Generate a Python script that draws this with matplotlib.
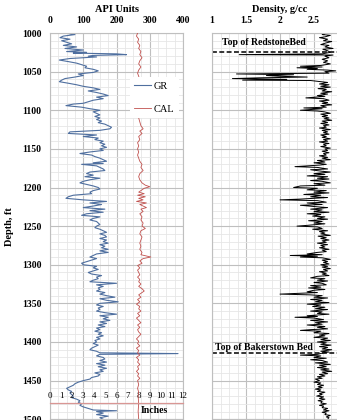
import matplotlib
matplotlib.use('Agg')
import matplotlib.pyplot as plt
from matplotlib.ticker import MultipleLocator, FixedLocator

plt.rcParams['font.family'] = ['Liberation Serif', 'DejaVu Serif']

# gamma ray log, API units
gr_depth = [1000, 1002, 1004, 1006, 1008, 1010, 1012, 1014, 1016, 1018, 1020, 1022, 1024, 1025, 1026,
            1027, 1028, 1029, 1030, 1031, 1033, 1035, 1037, 1039, 1041, 1043, 1045, 1047, 1049, 1051,
            1053, 1055, 1057, 1059, 1061, 1063, 1065, 1067, 1069, 1071, 1073, 1075, 1077, 1079, 1081,
            1083, 1085, 1087, 1089, 1091, 1092, 1094, 1096, 1098, 1100, 1102, 1104, 1106, 1108, 1110,
            1112, 1114, 1116, 1118, 1120, 1122, 1124, 1126, 1128, 1130, 1132, 1134, 1136, 1138, 1140,
            1142, 1144, 1146, 1148, 1150, 1152, 1154, 1156, 1158, 1160, 1162, 1164, 1166, 1168, 1169,
            1170, 1172, 1174, 1176, 1178, 1180, 1182, 1184, 1186, 1188, 1190, 1192, 1194, 1196, 1198,
            1200, 1202, 1204, 1206, 1208, 1210, 1212, 1214, 1216, 1218, 1220, 1222, 1224, 1226, 1228,
            1230, 1232, 1234, 1236, 1238, 1240, 1242, 1244, 1246, 1248, 1250, 1252, 1254, 1256, 1258,
            1260, 1262, 1264, 1266, 1268, 1270, 1272, 1274, 1276, 1278, 1280, 1282, 1284, 1286, 1288,
            1290, 1292, 1294, 1296, 1298, 1300, 1302, 1304, 1306, 1308, 1310, 1312, 1314, 1316, 1318,
            1320, 1322, 1324, 1326, 1328, 1330, 1332, 1334, 1336, 1338, 1340, 1342, 1344, 1346, 1348,
            1350, 1352, 1354, 1356, 1358, 1360, 1362, 1364, 1366, 1368, 1370, 1372, 1374, 1376, 1378,
            1380, 1382, 1384, 1386, 1388, 1390, 1392, 1394, 1396, 1398, 1400, 1402, 1404, 1406, 1408,
            1410, 1412, 1414, 1415, 1416, 1418, 1420, 1422, 1424, 1426, 1428, 1430, 1432, 1434, 1436,
            1438, 1440, 1442, 1444, 1446, 1448, 1450, 1452, 1454, 1456, 1458, 1460, 1462, 1464, 1466,
            1468, 1470, 1472, 1474, 1476, 1478, 1480, 1482, 1484, 1486, 1488, 1489, 1490, 1492, 1494,
            1496, 1498, 1500]
gr_api = [45, 75, 40, 30, 60, 35, 50, 65, 40, 80, 45, 100, 50, 110, 70,
          200, 230, 130, 115, 140, 60, 28, 55, 80, 95, 110, 105, 130, 145, 130,
          85, 100, 75, 45, 35, 28, 55, 80, 100, 130, 150, 115, 140, 160, 175,
          140, 160, 130, 115, 100, 70, 48, 95, 120, 150, 130, 140, 150, 135, 150,
          140, 155, 145, 165, 175, 185, 180, 150, 60, 55, 140, 100, 145, 135, 160,
          150, 165, 155, 170, 150, 160, 120, 90, 125, 135, 150, 160, 170, 130, 160,
          95, 140, 150, 160, 165, 120, 110, 130, 105, 150, 120, 100, 90, 110, 130,
          145, 150, 130, 120, 125, 70, 55, 48, 100, 170, 120, 155, 130, 100, 165,
          120, 160, 110, 95, 150, 130, 120, 140, 145, 150, 140, 135, 150, 160, 170,
          150, 165, 170, 150, 170, 160, 175, 150, 165, 155, 175, 150, 175, 140, 130,
          120, 140, 125, 110, 95, 100, 140, 130, 145, 130, 115, 125, 155, 140, 145,
          130, 120, 200, 140, 160, 145, 150, 140, 165, 150, 170, 195, 150, 170, 205,
          150, 140, 160, 145, 150, 140, 165, 200, 150, 175, 160, 180, 150, 170, 145,
          165, 140, 150, 135, 155, 145, 160, 140, 150, 135, 140, 130, 145, 135, 125,
          120, 140, 150, 385, 150, 140, 160, 165, 150, 170, 140, 165, 145, 170, 150,
          160, 135, 150, 145, 125, 120, 100, 85, 75, 70, 60, 50, 55, 65, 60,
          65, 70, 65, 80, 90, 85, 95, 90, 100, 115, 130, 200, 140, 160, 140,
          175, 150, 160]

# caliper log, inches
cal_depth = [1000, 1004, 1008, 1012, 1016, 1020, 1024, 1028, 1032, 1036, 1040, 1044, 1048, 1052, 1056,
             1060, 1070, 1080, 1090, 1100, 1110, 1120, 1124, 1127, 1130, 1134, 1138, 1142, 1146, 1150,
             1154, 1158, 1162, 1166, 1170, 1174, 1178, 1182, 1186, 1190, 1194, 1197, 1199, 1201, 1203,
             1206, 1208, 1210, 1212, 1214, 1216, 1218, 1220, 1222, 1224, 1226, 1228, 1231, 1234, 1238,
             1242, 1246, 1250, 1253, 1256, 1260, 1264, 1268, 1272, 1276, 1280, 1284, 1287, 1289, 1290,
             1292, 1295, 1298, 1301, 1304, 1307, 1310, 1313, 1316, 1319, 1322, 1325, 1328, 1331, 1334,
             1336, 1339, 1342, 1345, 1348, 1351, 1354, 1357, 1360, 1363, 1366, 1369, 1372, 1375, 1378,
             1381, 1384, 1387, 1390, 1393, 1396, 1399, 1402, 1405, 1408, 1411, 1414, 1417, 1420, 1423,
             1426, 1429, 1432, 1435, 1438, 1441, 1444, 1447, 1450, 1455, 1460, 1465, 1470, 1480, 1490,
             1500]
cal_in = [7.9, 7.8, 8.0, 7.9, 8.1, 8.0, 8.2, 8.1, 8.3, 8.1, 8.0, 8.2, 8.0, 7.9, 8.0,
          8.1, 8.0, 8.1, 8.0, 8.1, 8.0, 8.2, 8.4, 8.1, 8.3, 8.0, 8.1, 7.9, 8.0, 7.9,
          8.0, 7.9, 8.0, 8.1, 8.3, 8.2, 8.4, 8.1, 8.0, 8.1, 8.3, 8.6, 9.0, 8.5, 8.3,
          8.0, 8.5, 7.9, 8.6, 8.0, 8.4, 7.8, 8.7, 8.1, 8.4, 8.7, 8.2, 8.4, 8.1, 8.3,
          8.2, 8.4, 8.3, 8.6, 8.2, 8.1, 8.3, 8.2, 8.1, 8.2, 8.1, 8.3, 8.2, 8.8, 9.1,
          8.4, 8.1, 8.3, 7.9, 8.1, 7.9, 8.0, 8.1, 7.9, 8.1, 8.0, 8.2, 8.0, 8.3, 8.5,
          8.3, 8.0, 8.2, 7.9, 8.1, 7.8, 8.1, 8.0, 8.2, 7.9, 8.1, 7.8, 8.0, 8.2, 7.9,
          8.1, 7.9, 8.0, 8.2, 8.0, 7.8, 8.0, 7.9, 8.1, 7.8, 8.0, 7.9, 8.1, 7.8, 8.0,
          7.9, 8.1, 7.9, 8.0, 7.8, 8.0, 7.9, 8.1, 7.9, 8.0, 7.9, 8.0, 7.95, 8.0, 7.95,
          8.0]

# bulk density log, g/cc
den_depth = [1000, 1002, 1003, 1005, 1006, 1008, 1010, 1011, 1013, 1015, 1016, 1018, 1020, 1021, 1023,
             1025, 1027, 1028, 1028.5, 1030, 1032, 1034, 1036, 1038, 1040, 1042, 1043, 1044, 1045, 1046,
             1047, 1048, 1049, 1050, 1052, 1053, 1054, 1055, 1056, 1057, 1058, 1059, 1060, 1061, 1061.5,
             1063, 1064, 1066, 1067, 1069, 1070, 1072, 1073, 1075, 1076, 1078, 1079, 1081, 1082, 1084,
             1085, 1087, 1088, 1090, 1091, 1093, 1094, 1096, 1097, 1098, 1100, 1101, 1102, 1104, 1105,
             1107, 1108, 1110, 1111, 1113, 1114, 1116, 1117, 1119, 1120, 1122, 1123, 1125, 1126, 1128,
             1129, 1131, 1132, 1134, 1135, 1137, 1138, 1140, 1141, 1143, 1144, 1146, 1147, 1149, 1150,
             1152, 1153, 1155, 1156, 1158, 1159, 1161, 1162, 1164, 1165, 1167, 1168, 1170, 1171, 1173,
             1174, 1176, 1177, 1179, 1180, 1182, 1183, 1185, 1186, 1188, 1189, 1191, 1192, 1194, 1195,
             1197, 1198, 1200, 1201, 1203, 1204, 1206, 1207, 1209, 1210, 1212, 1213, 1215, 1216, 1217,
             1219, 1220, 1222, 1223, 1225, 1226, 1228, 1229, 1231, 1232, 1234, 1235, 1237, 1238, 1240,
             1241, 1243, 1244, 1246, 1247, 1249, 1250, 1251, 1253, 1254, 1256, 1257, 1259, 1260, 1262,
             1263, 1265, 1266, 1268, 1269, 1271, 1272, 1274, 1275, 1277, 1278, 1280, 1281, 1283, 1284,
             1286, 1287, 1288, 1289, 1290, 1291, 1293, 1294, 1296, 1297, 1299, 1300, 1302, 1303, 1305,
             1306, 1308, 1309, 1311, 1312, 1314, 1315, 1317, 1318, 1320, 1321, 1323, 1324, 1326, 1327,
             1329, 1330, 1332, 1333, 1335, 1336, 1338, 1339, 1340, 1342, 1343, 1345, 1346, 1348, 1349,
             1351, 1352, 1354, 1355, 1357, 1358, 1360, 1361, 1363, 1364, 1366, 1367, 1368, 1369, 1371,
             1372, 1374, 1375, 1377, 1378, 1380, 1381, 1383, 1384, 1385, 1386, 1388, 1389, 1391, 1392,
             1394, 1395, 1397, 1398, 1400, 1401, 1403, 1404, 1406, 1407, 1409, 1410, 1412, 1413, 1414,
             1416, 1417, 1418, 1420, 1421, 1423, 1424, 1426, 1427, 1429, 1430, 1432, 1433, 1435, 1436,
             1438, 1439, 1441, 1442, 1444, 1445, 1447, 1448, 1450, 1452, 1453, 1455, 1456, 1458, 1459,
             1461, 1462, 1464, 1465, 1467, 1468, 1470, 1471, 1473, 1474, 1476, 1477, 1479, 1480, 1482,
             1483, 1485, 1486, 1488, 1489, 1491, 1492, 1494, 1495, 1497, 1498, 1500]
den_gcc = [2.68, 2.62, 2.74, 2.66, 2.58, 2.70, 2.64, 2.76, 2.67, 2.60, 2.72, 2.66, 2.78, 2.63, 2.70,
           2.74, 2.62, 1.40, 2.78, 2.66, 2.72, 2.62, 2.70, 2.64, 2.74, 2.60, 2.30, 2.62, 2.25, 2.55,
           2.40, 2.70, 2.82, 2.66, 2.72, 1.36, 2.20, 1.80, 2.00, 2.40, 1.70, 1.30, 2.10, 1.45, 2.45,
           2.60, 2.70, 2.58, 2.72, 2.60, 2.74, 2.56, 2.68, 2.62, 2.76, 2.60, 2.70, 2.55, 2.66, 2.38,
           2.64, 2.72, 2.58, 2.70, 2.62, 2.76, 2.60, 2.68, 2.35, 2.62, 2.30, 2.55, 2.65, 2.74, 2.60,
           2.70, 2.62, 2.72, 2.65, 2.76, 2.62, 2.70, 2.60, 2.72, 2.64, 2.68, 2.58, 2.74, 2.62, 2.70,
           2.64, 2.72, 2.60, 2.68, 2.62, 2.74, 2.64, 2.70, 2.58, 2.72, 2.64, 2.68, 2.60, 2.74, 2.66,
           2.70, 2.62, 2.72, 2.64, 2.68, 2.58, 2.70, 2.62, 2.74, 2.55, 2.66, 2.50, 2.68, 2.58, 2.22,
           2.55, 2.70, 2.45, 2.62, 2.74, 2.50, 2.66, 2.40, 2.70, 2.55, 2.72, 2.45, 2.62, 2.74, 2.50,
           2.66, 2.30, 2.20, 2.55, 2.40, 2.68, 2.50, 2.72, 2.35, 2.60, 2.45, 2.70, 2.30, 2.00, 2.55,
           2.68, 2.40, 2.62, 2.30, 2.55, 2.70, 2.45, 2.62, 2.50, 2.72, 2.40, 2.60, 2.48, 2.66, 2.55,
           2.70, 2.42, 2.62, 2.50, 2.66, 2.40, 2.25, 2.55, 2.62, 2.48, 2.70, 2.58, 2.66, 2.60, 2.74,
           2.56, 2.68, 2.60, 2.72, 2.62, 2.68, 2.55, 2.70, 2.60, 2.66, 2.58, 2.72, 2.62, 2.68, 2.55,
           2.40, 2.62, 2.15, 2.55, 2.30, 2.62, 2.74, 2.62, 2.70, 2.64, 2.72, 2.60, 2.70, 2.62, 2.74,
           2.64, 2.70, 2.58, 2.68, 2.62, 2.72, 2.55, 2.45, 2.66, 2.55, 2.70, 2.50, 2.62, 2.68, 2.45,
           2.60, 2.42, 2.66, 2.50, 2.40, 2.55, 2.00, 2.45, 2.62, 2.50, 2.70, 2.45, 2.62, 2.52, 2.72,
           2.40, 2.60, 2.48, 2.66, 2.52, 2.70, 2.45, 2.62, 2.55, 2.72, 2.40, 2.55, 2.22, 2.50, 2.64,
           2.45, 2.70, 2.52, 2.62, 2.40, 2.66, 2.55, 2.70, 2.45, 2.30, 2.60, 2.50, 2.72, 2.58, 2.66,
           2.50, 2.70, 2.60, 2.74, 2.55, 2.68, 2.60, 2.75, 2.58, 2.70, 2.62, 2.76, 2.60, 2.72, 2.64,
           2.55, 2.30, 2.60, 2.50, 2.68, 2.45, 2.62, 2.70, 2.52, 2.74, 2.58, 2.68, 2.55, 2.72, 2.60,
           2.76, 2.62, 2.70, 2.58, 2.66, 2.55, 2.62, 2.52, 2.58, 2.50, 2.60, 2.55, 2.64, 2.56, 2.62,
           2.52, 2.60, 2.55, 2.66, 2.58, 2.62, 2.54, 2.64, 2.58, 2.66, 2.56, 2.62, 2.60, 2.68, 2.58,
           2.64, 2.62, 2.70, 2.64, 2.72, 2.62, 2.68, 2.66, 2.74, 2.68, 2.72, 2.70]

# formation tops, ft
tops = {'Top of RedstoneBed': 1025, 'Top of Bakerstown Bed': 1414.5}

gr_color = '#4f6f9f'
cal_color = '#c0504d'
major_c = '#bfbfbf'
minor_c = '#e6e6e6'

fig = plt.figure(figsize=(3.37, 4.2), dpi=100)
ax = fig.add_axes([0.1484, 0.0018, 0.3947, 0.9196])
axr = fig.add_axes([0.6291, 0.0018, 0.4036, 0.9196])

# left track: GR
gr_line, = ax.plot(gr_api, gr_depth, color=gr_color, lw=0.8, label='GR')
ax.set_xlim(0, 400)
ax.set_ylim(1500, 1000)

# caliper on an inch scale drawn inside the left track
ax2 = ax.twiny()
cal_line, = ax2.plot(cal_in, cal_depth, color=cal_color, lw=0.6, label='CAL')
ax2.set_xlim(0, 12)
ax2.set_ylim(1500, 1000)
for k in ('bottom', 'left', 'right'):
    ax2.spines[k].set_visible(False)
ax2.spines['top'].set_position(('data', 1479))
ax2.spines['top'].set_color('#d99694')
ax2.spines['top'].set_linewidth(0.9)
ax2.set_xticks(range(13))
ax2.xaxis.set_minor_locator(FixedLocator([1, 3, 5, 7, 9, 11]))
ax2.tick_params(which='major', length=0, labelsize=6.5, pad=2)
ax2.tick_params(which='minor', length=6, direction='inout', color='#d99694', width=0.9)
ax2.text(9.4, 1489, 'Inches', fontsize=7, fontweight='bold', ha='center', va='center')

ax2.legend([gr_line, cal_line], ['GR', 'CAL'], loc='upper left',
           bbox_to_anchor=(0.60, 0.885), frameon=True, facecolor='white',
           edgecolor='none', framealpha=1, fancybox=False, fontsize=7.5,
           handlelength=1.6, handletextpad=0.3, labelspacing=1.3,
           borderpad=0.4, borderaxespad=0)

# twiny moves the host ticks to the bottom, so set them again
ax.xaxis.tick_top()
ax.xaxis.set_label_position('top')
ax.set_xticks([0, 100, 200, 300, 400])
ax.xaxis.set_minor_locator(MultipleLocator(25))
ax.yaxis.set_major_locator(MultipleLocator(50))
ax.yaxis.set_minor_locator(MultipleLocator(10))
ax.set_xlabel('API Units', fontsize=7.5, fontweight='bold', labelpad=3)
ax.set_ylabel('Depth, ft', fontsize=7.5, fontweight='bold', labelpad=6)

# right track: density
axr.plot(den_gcc, den_depth, color='black', lw=0.7)
axr.set_xlim(1, 3)
axr.set_ylim(1500, 1000)
axr.xaxis.tick_top()
axr.xaxis.set_label_position('top')
axr.set_xticks([1, 1.5, 2, 2.5])
axr.set_xticklabels(['1', '1.5', '2', '2.5'])
axr.xaxis.set_minor_locator(MultipleLocator(0.125))
axr.yaxis.set_major_locator(MultipleLocator(50))
axr.yaxis.set_minor_locator(MultipleLocator(10))
axr.tick_params(axis='y', labelleft=False)
axr.set_xlabel('Density, g/cc', fontsize=7.5, fontweight='bold', labelpad=3)

label_pos = {'Top of RedstoneBed': (1.15, 1012), 'Top of Bakerstown Bed': (1.05, 1406.5)}
for name, depth in tops.items():
    axr.axhline(depth, color='black', lw=1.1, ls=(0, (3.2, 1.6)))
    x, y = label_pos[name]
    axr.text(x, y, name, fontsize=7, fontweight='bold', ha='left', va='center')

for a in (ax, axr):
    a.grid(which='major', color=major_c, lw=0.8)
    a.grid(which='minor', color=minor_c, lw=0.6)
    a.set_axisbelow(True)
    a.tick_params(which='both', length=0)
    a.tick_params(which='major', labelsize=7, pad=6)
    for s in a.spines.values():
        s.set_color(major_c)
        s.set_linewidth(0.8)
    plt.setp(a.get_xticklabels() + a.get_yticklabels(), fontweight='bold')

# the density grid line at 3 g/cc falls outside the picture
axr.xaxis.set_minor_locator(MultipleLocator(0.125))
axr.set_xticks([1, 1.5, 2, 2.5, 3], minor=False)
axr.set_xticklabels(['1', '1.5', '2', '2.5', ''])
plt.setp(axr.get_xticklabels(), fontweight='bold')

fig.savefig('out.png', dpi=100)
